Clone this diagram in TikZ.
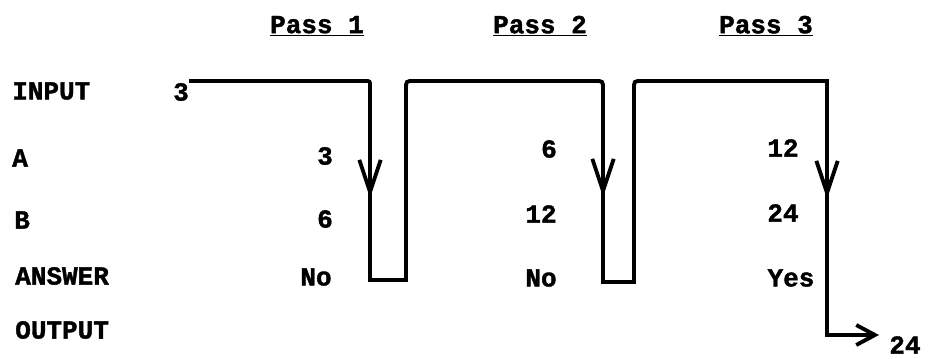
\documentclass[tikz,border=0pt]{standalone}
\usepackage{fontspec}
\setmonofont[FakeBold=1.5]{Liberation Mono}
\usetikzlibrary{arrows.meta}
\begin{document}
\begin{tikzpicture}[x=0.75pt,y=-0.75pt,
  lab/.style={font=\ttfamily\bfseries\fontsize{19.5}{20}\selectfont, inner sep=0pt},
  flow/.style={line width=2.9pt, line join=miter},
  barb/.style={flow, -{Straight Barb[length=24pt,width=16pt]}},
  endbarb/.style={flow, -{Straight Barb[length=14pt,width=15pt]}}]
\useasboundingbox (0,0) rectangle (929,359);
% headers
\node[lab] (p1) at (317,26) {\underline{Pass 1}};
\node[lab] (p2) at (540,26) {\underline{Pass 2}};
\node[lab] (p3) at (766,26) {\underline{Pass 3}};
% row labels
\node[lab, anchor=west] (rin) at (12,91) {INPUT};
\node[lab, anchor=west] (ra) at (12,158) {A};
\node[lab, anchor=west] (rb) at (14,220) {B};
\node[lab, anchor=west] (rans) at (15,276) {ANSWER};
\node[lab, anchor=west] (rout) at (15,330) {OUTPUT};
% values
\node[lab] (in3) at (181,92) {3};
\node[lab] (a1) at (325,156) {3};
\node[lab] (b1) at (325,219) {6};
\node[lab] (n1) at (316,277) {No};
\node[lab] (a2) at (549,149) {6};
\node[lab] (b2) at (541,214) {12};
\node[lab] (n2) at (541,278) {No};
\node[lab] (a3) at (783,148) {12};
\node[lab] (b3) at (783,213) {24};
\node[lab] (n3) at (791,278) {Yes};
\node[lab] (out24) at (905,345) {24};
% flow line
\coordinate (s) at (in3.east |- 0,81);
\coordinate (e) at (879,335);
\draw[endbarb] (s) -- (365,81) .. controls (370,81) .. (370,86)
  -- (370,280) -- (406,280) -- (406,89) .. controls (406,81) .. (414,81)
  -- (595,81) .. controls (603,81) .. (603,89) -- (603,282) -- (634,282)
  -- (634,89) .. controls (634,81) .. (642,81) -- (827,81) -- (827,335) -- (e);
% arrowheads on the down runs
\draw[barb] (370,150) -- (370,198);
\draw[barb] (603,150) -- (603,197);
\draw[barb] (827,150) -- (827,199);
\end{tikzpicture}
\end{document}
